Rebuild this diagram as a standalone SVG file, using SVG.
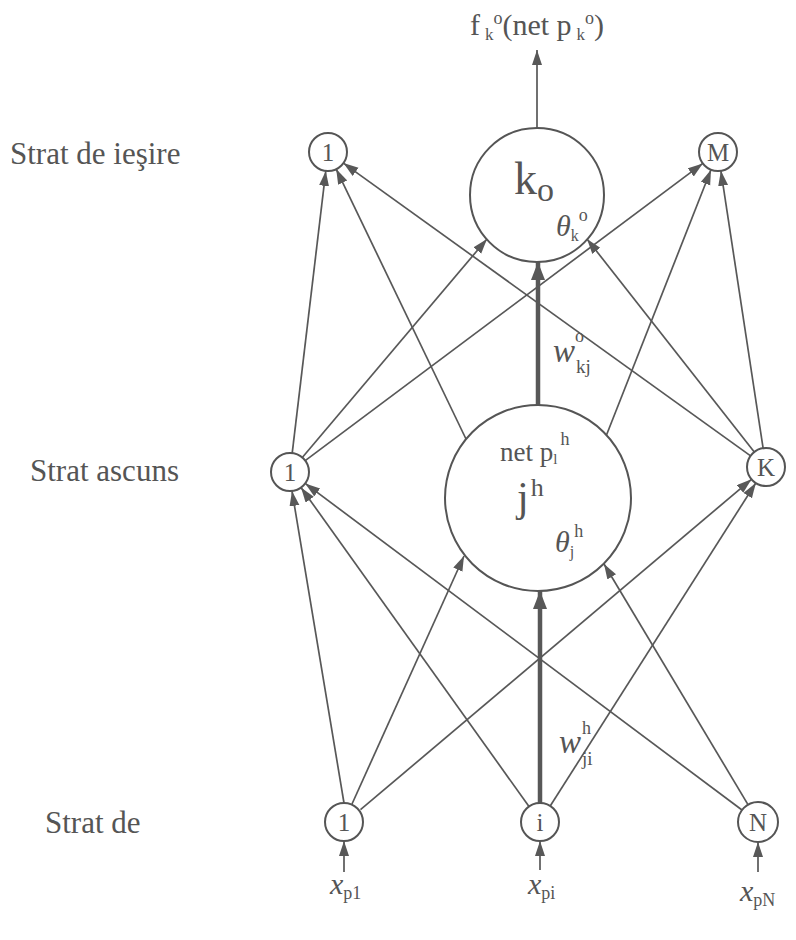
<svg xmlns="http://www.w3.org/2000/svg" width="796" height="940" viewBox="0 0 796 940" font-family="'Liberation Serif','Times New Roman',serif">
<style>
text{font-family:"Liberation Serif","Times New Roman",serif;fill:#555}
.lay{font-size:31px}
.nl{font-size:25px;text-anchor:middle}
.it{font-style:italic}
.n{fill:#fff;stroke:#555;stroke-width:2}
.c line{stroke:#585858;stroke-width:1.7;marker-end:url(#ah)}
.c line.thick{stroke-width:4.5;marker-end:url(#ahb)}
</style>
<defs>
<marker id="ah" markerUnits="userSpaceOnUse" markerWidth="16" markerHeight="12" refX="15" refY="5" orient="auto"><path d="M0,0 L15,5 L0,10 z" fill="#585858"/></marker>
<marker id="ahb" markerUnits="userSpaceOnUse" markerWidth="20" markerHeight="14" refX="18" refY="7" orient="auto"><path d="M0,0 L18,7 L0,14 z" fill="#585858"/></marker>
</defs>
<rect width="796" height="940" fill="#fff"/>
<g id="layers">
<text class="lay" x="10" y="164">Strat de ieşire</text>
<text class="lay" x="30" y="481">Strat ascuns</text>
<text class="lay" x="45" y="833">Strat de</text>
</g>
<g class="c" id="connectors">
<line x1="344" y1="803" x2="292" y2="491"/>
<line x1="352" y1="804" x2="464" y2="556"/>
<line x1="360.5" y1="809.7" x2="751.5" y2="479.3"/>
<line x1="529" y1="806.5" x2="301" y2="487.5"/>
<line class="thick" x1="540" y1="803" x2="540" y2="591"/>
<line x1="550.2" y1="806" x2="755.8" y2="483"/>
<line x1="742" y1="810" x2="305.2" y2="483.4"/>
<line x1="748" y1="804.6" x2="604" y2="564"/>
<line x1="344" y1="872" x2="344" y2="841"/>
<line x1="540" y1="870" x2="540" y2="841"/>
<line x1="758" y1="872" x2="758" y2="842"/>
<line x1="292.2" y1="453.1" x2="325.8" y2="170.9"/>
<line x1="302.3" y1="457.5" x2="487" y2="239"/>
<line x1="305.2" y1="460.6" x2="702.8" y2="163.4"/>
<line x1="466" y1="439" x2="336.2" y2="169.1"/>
<line class="thick" x1="538" y1="405" x2="538" y2="262"/>
<line x1="606.5" y1="435" x2="711" y2="169.7"/>
<line x1="750.6" y1="455.9" x2="343.4" y2="163.1"/>
<line x1="754.3" y1="452.1" x2="587" y2="239"/>
<line x1="763.1" y1="448.2" x2="720.9" y2="170.8"/>
<line x1="537" y1="128" x2="537" y2="50"/>
</g>
<g id="out-label">
<text x="537" y="35" font-size="30" text-anchor="middle">f<tspan font-size="17" dx="5" dy="5">k</tspan><tspan font-size="18" dy="-16">o</tspan><tspan dy="11">(net p</tspan><tspan font-size="17" dx="5" dy="5">k</tspan><tspan font-size="18" dy="-16">o</tspan><tspan dy="11">)</tspan></text>
</g>
<g id="o1"><circle class="n" cx="328" cy="152" r="19"/><text class="nl" x="328" y="161">1</text></g>
<g id="ko"><circle class="n" cx="537" cy="195" r="67" stroke-width="2.6"/>
<text x="514" y="194" font-size="46">k<tspan font-size="34" dy="7">o</tspan></text>
<text x="556" y="236" font-size="30"><tspan font-style="italic">θ</tspan><tspan font-size="16" dy="5">k</tspan><tspan font-size="18" dy="-20">o</tspan></text></g>
<g id="om"><circle class="n" cx="718" cy="152" r="19"/><text class="nl" x="718" y="161">M</text></g>
<g id="h1"><circle class="n" cx="290" cy="472" r="19"/><text class="nl" x="290" y="481">1</text></g>
<g id="hj"><circle class="n" cx="538" cy="498" r="93" stroke-width="2.6"/>
<text x="500" y="461" font-size="27">net p<tspan font-size="15" dy="3">l</tspan><tspan font-size="18" dx="3" dy="-19">h</tspan></text>
<text x="517" y="511" font-size="42">j<tspan font-size="26" dx="2" dy="-15">h</tspan></text>
<text x="555" y="552" font-size="30"><tspan font-style="italic">θ</tspan><tspan font-size="16" dy="5">j</tspan><tspan font-size="18" dy="-20">h</tspan></text></g>
<g id="hk"><circle class="n" cx="766" cy="467" r="19"/><text class="nl" x="766" y="476">K</text></g>
<g id="w-labels">
<text class="it" x="553" y="362" font-size="33">w</text><text x="575" y="342" font-size="18">o</text><text x="576" y="373" font-size="19">kj</text>
<text class="it" x="559" y="753" font-size="33">w</text><text x="582" y="734" font-size="18">h</text><text x="582" y="765" font-size="19">ji</text>
</g>
<g id="i1"><circle class="n" cx="344" cy="822" r="19"/><text class="nl" x="344" y="831">1</text></g>
<g id="ii"><circle class="n" cx="540" cy="822" r="19"/><text class="nl" x="540" y="831">i</text></g>
<g id="in"><circle class="n" cx="758" cy="822" r="20"/><text class="nl" x="758" y="831">N</text></g>
<g id="x-labels">
<text class="it" x="330" y="894" font-size="30">x<tspan font-style="normal" font-size="18" dy="5">p1</tspan></text>
<text class="it" x="528" y="894" font-size="30">x<tspan font-style="normal" font-size="18" dy="5">pi</tspan></text>
<text class="it" x="740" y="901" font-size="30">x<tspan font-style="normal" font-size="18" dy="5">pN</tspan></text>
</g>
</svg>
